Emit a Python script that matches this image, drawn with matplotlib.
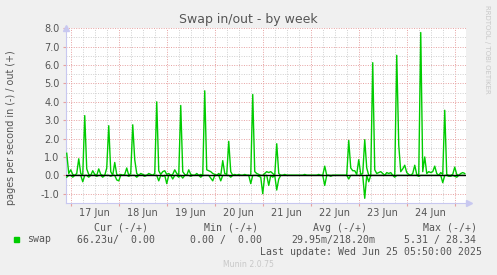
import numpy as np
import matplotlib
matplotlib.use("Agg")
import matplotlib.pyplot as plt
from matplotlib.ticker import FixedLocator, FuncFormatter

plt.rcParams['axes.unicode_minus'] = False

# hourly samples, hour 0 = 17 Jun 00:00 ; "out" is plotted up, "in" is plotted down
start_hour = -2
out_jun16 = [1.2, 0.1]
in_jun16 = [0.1, 0.0]
out_jun17 = [0.3, 0.05, 0.0, 0.1, 0.9, 0.1, 0.0, 3.25, 0.35, 0.05, 0.0, 0.25,
             0.05, 0.0, 0.35, 0.05, 0.0, 0.0, 0.4, 2.7, 0.2, 0.0, 0.7, 0.05]
in_jun17 = [0.0, 0.1, 0.0, 0.0, 0.0, 0.0, 0.35, 0.0, 0.0, 0.1, 0.0, 0.0,
            0.0, 0.05, 0.0, 0.0, 0.1, 0.0, 0.0, 0.0, 0.05, 0.0, 0.0, 0.25]
out_jun18 = [0.0, 0.05, 0.0, 0.05, 0.4, 0.0, 0.1, 2.75, 0.85, 0.1, 0.0, 0.1,
             0.05, 0.0, 0.0, 0.1, 0.05, 0.0, 0.1, 4.0, 0.25, 0.05, 0.2, 0.25]
in_jun18 = [0.3, 0.0, 0.0, 0.0, 0.0, 0.05, 0.0, 0.0, 0.0, 0.1, 0.0, 0.0,
            0.0, 0.05, 0.0, 0.0, 0.0, 0.0, 0.0, 0.0, 0.3, 0.0, 0.05, 0.0]
out_jun19 = [0.05, 0.1, 0.0, 0.05, 0.3, 0.1, 0.0, 3.8, 0.2, 0.05, 0.0, 0.3,
             0.05, 0.0, 0.0, 0.1, 0.0, 0.05, 0.0, 4.6, 0.3, 0.25, 0.2, 0.1]
in_jun19 = [0.45, 0.0, 0.0, 0.2, 0.0, 0.0, 0.1, 0.0, 0.15, 0.0, 0.0, 0.0,
            0.05, 0.0, 0.0, 0.0, 0.0, 0.1, 0.0, 0.0, 0.0, 0.0, 0.15, 0.3]
out_jun20 = [0.05, 0.0, 0.1, 0.0, 0.8, 0.1, 0.05, 1.85, 0.2, 0.0, 0.05, 0.0,
             0.05, 0.0, 0.0, 0.05, 0.0, 0.0, 0.0, 4.4, 0.2, 0.1, 0.05, 0.0]
in_jun20 = [0.0, 0.0, 0.0, 0.3, 0.0, 0.0, 0.0, 0.0, 0.1, 0.0, 0.0, 0.0,
            0.0, 0.0, 0.0, 0.0, 0.0, 0.0, 0.45, 0.0, 0.0, 0.0, 0.05, 0.1]
out_jun21 = [0.0, 0.1, 0.2, 0.15, 0.2, 0.1, 0.0, 1.72, 0.1, 0.0, 0.0, 0.05,
             0.0, 0.0, 0.0, 0.0, 0.0, 0.0, 0.0, 0.0, 0.0, 0.05, 0.0, 0.0]
in_jun21 = [1.0, 0.0, 0.0, 0.55, 0.0, 0.1, 0.0, 0.8, 0.2, 0.0, 0.0, 0.0,
            0.0, 0.0, 0.0, 0.0, 0.0, 0.0, 0.0, 0.0, 0.0, 0.0, 0.0, 0.0]
out_jun22 = [0.0, 0.0, 0.0, 0.0, 0.05, 0.0, 0.0, 0.5, 0.0, 0.0, 0.0, 0.0,
             0.0, 0.0, 0.0, 0.0, 0.0, 0.0, 0.0, 1.9, 0.4, 0.25, 0.25, 0.05]
in_jun22 = [0.0, 0.0, 0.0, 0.0, 0.0, 0.0, 0.0, 0.55, 0.0, 0.0, 0.05, 0.0,
            0.0, 0.0, 0.0, 0.0, 0.0, 0.0, 0.0, 0.2, 0.0, 0.0, 0.0, 0.0]
out_jun23 = [0.85, 0.05, 0.1, 1.94, 0.4, 0.0, 0.0, 6.13, 0.3, 0.1, 0.15, 0.2,
             0.1, 0.0, 0.15, 0.1, 0.15, 0.0, 0.0, 6.53, 1.65, 0.2, 0.35, 0.55]
in_jun23 = [0.0, 0.0, 0.0, 1.25, 0.0, 0.35, 0.0, 0.0, 0.0, 0.0, 0.0, 0.0,
            0.0, 0.0, 0.0, 0.0, 0.0, 0.0, 0.1, 0.0, 0.0, 0.0, 0.0, 0.0]
out_jun24 = [0.15, 0.05, 0.0, 0.1, 0.55, 0.05, 0.0, 7.77, 0.2, 1.0, 0.1, 0.2,
             0.15, 0.2, 0.5, 0.1, 0.0, 0.15, 0.05, 3.54, 0.05, 0.0, 0.0, 0.05]
in_jun24 = [0.0, 0.0, 0.0, 0.0, 0.0, 0.0, 0.05, 0.0, 0.0, 0.0, 0.0, 0.0,
            0.0, 0.0, 0.0, 0.0, 0.0, 0.0, 0.4, 0.0, 0.0, 0.05, 0.05, 0.0]
out_jun25 = [0.45, 0.05, 0.0, 0.1, 0.15, 0.1]
in_jun25 = [0.05, 0.1, 0.0, 0.0, 0.0, 0.0]

day_labels = ["17 Jun", "18 Jun", "19 Jun", "20 Jun", "21 Jun", "22 Jun", "23 Jun", "24 Jun"]

swap_out = np.array(out_jun16 + out_jun17 + out_jun18 + out_jun19 + out_jun20
                    + out_jun21 + out_jun22 + out_jun23 + out_jun24 + out_jun25)
swap_in = np.array(in_jun16 + in_jun17 + in_jun18 + in_jun19 + in_jun20
                   + in_jun21 + in_jun22 + in_jun23 + in_jun24 + in_jun25)
hours = start_hour + np.arange(len(swap_out))

W, H = 497, 275
fig = plt.figure(figsize=(W / 100, H / 100), dpi=100, facecolor='#f0f0f0')
ax = fig.add_axes([66.4 / W, 1 - 202.9 / H, 400 / W, (202.9 - 28.3) / H])
ax.set_facecolor('white')

x0, x1 = -2.17, 197.83
ax.set_xlim(x0, x1)
ax.set_ylim(-1.5, 8.0)

red = '#e6a0a0'
grey = '#cfcfcf'
dots = (0, (1, 1.5))

# grid: red every day / every 1.0, grey every 6h / every 0.5
for h in np.arange(0, 24 * 9, 6):
    if x0 < h < x1:
        ax.axvline(h, color=red if h % 24 == 0 else grey, lw=0.7, ls=dots, zorder=1)
for v in np.arange(-1.5, 8.01, 0.5):
    ax.axhline(v, color=red if v % 1 == 0 else grey, lw=0.7, ls=dots, zorder=1)

ax.plot(hours, swap_out, color='#00cc00', lw=1.0, zorder=3)
ax.plot(hours, -swap_in, color='#00cc00', lw=1.0, zorder=3)
ax.axhline(0, color='black', lw=1.0, zorder=4)

for s in ['top', 'right']:
    ax.spines[s].set_visible(False)
for s in ['left', 'bottom']:
    ax.spines[s].set_color('#c8c8f0')
    ax.spines[s].set_linewidth(0.8)
# arrow heads of rrdtool axes
ax.plot([x0], [8.0], marker='^', ms=4, color='#c8c8f0', clip_on=False, zorder=5)
ax.plot([x1 + 1.5], [-1.5], marker='>', ms=4, color='#c8c8f0', clip_on=False, zorder=5)

ax.set_yticks(np.arange(-1, 8.5, 1))
ax.yaxis.set_major_formatter(FuncFormatter(lambda v, p: "%.1f" % v))
ax.tick_params(axis='y', length=2, color=red, labelsize=7, labelcolor='#555555', pad=3)

midnights = [h for h in range(0, 24 * 9, 24) if x0 < h < x1]
noons = [24 * i + 12 for i in range(len(day_labels))]
ax.set_xticks(midnights)
ax.set_xticklabels([])
ax.xaxis.set_minor_locator(FixedLocator(noons))
ax.set_xticks(noons, minor=True)
ax.set_xticklabels(day_labels, minor=True)
ax.tick_params(axis='x', which='major', length=2, color=red)
ax.tick_params(axis='x', which='minor', length=0, labelsize=7, labelcolor='#555555', pad=4)

fig.text(248.5 / W, 1 - 19.5 / H, "Swap in/out - by week", ha='center', va='center',
         fontsize=9, color='#555555')
fig.text(11 / W, 1 - 127.5 / H, "pages per second in (-) / out (+)", rotation=90,
         ha='center', va='center', fontsize=6.9, color='#555555')
fig.text(487.5 / W, 1 - 5 / H, "RRDTOOL / TOBI OETIKER", rotation=-90, ha='center',
         va='top', fontsize=5, color='#c8c8c8')

mono = dict(family='DejaVu Sans Mono', fontsize=7.1, color='#555555', va='center')
row1 = 1 - 227.7 / H
row2 = 1 - 239.5 / H
fig.text(94 / W, row1, "Cur (-/+)", **mono)
fig.text(204 / W, row1, "Min (-/+)", **mono)
fig.text(313.3 / W, row1, "Avg (-/+)", **mono)
fig.text(422.7 / W, row1, "Max (-/+)", **mono)
fig.patches.append(plt.Rectangle((14 / W, 1 - 242.3 / H), 5.3 / W, 5 / H,
                                 transform=fig.transFigure, color='#00cc00'))
fig.text(26.7 / W, row2, "swap", **mono)
fig.text(77.3 / W, row2, "66.23u/  0.00", **mono)
fig.text(190 / W, row2, "0.00 /  0.00", **mono)
fig.text(291.7 / W, row2, "29.95m/218.20m", **mono)
fig.text(404.3 / W, row2, "5.31 / 28.34", **mono)
fig.text(482.3 / W, 1 - 251.7 / H, "Last update: Wed Jun 25 05:50:00 2025", ha='right', **mono)
fig.text(248 / W, 1 - 264.3 / H, "Munin 2.0.75", ha='center', va='center',
         fontsize=5.6, color='#c8c8c8')

fig.savefig("out.png", dpi=100, facecolor=fig.get_facecolor())
